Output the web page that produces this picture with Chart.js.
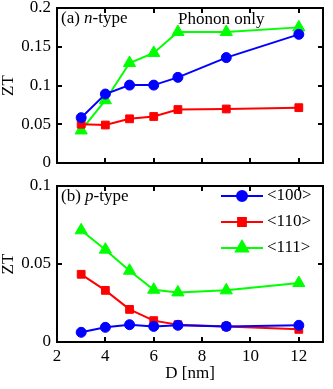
<!DOCTYPE html>
<html>
<head>
<meta charset="utf-8">
<script src="https://cdn.jsdelivr.net/npm/chart.js@4.4.1/dist/chart.umd.min.js"></script>
<style>
  html, body { margin: 0; padding: 0; background: #fff; }
  #wrap { position: relative; width: 333px; height: 389px; }
  #top-box { position: absolute; left: 0; top: 0; width: 333px; height: 175px; }
  #bottom-box { position: absolute; left: 0; top: 175px; width: 333px; height: 214px; }
</style>
</head>
<body>
<div id="wrap">
  <div id="top-box"><canvas id="chart-n"></canvas></div>
  <div id="bottom-box"><canvas id="chart-p"></canvas></div>
</div>
<script>
// nanowire diameters (nm)
const diameters = [3, 4, 5, 6, 7, 9, 12];
const seriesNames = ["<100>", "<110>", "<111>"];

// (a) n-type, phonon only
const nType100 = [0.0585, 0.089, 0.1005, 0.1005, 0.1105, 0.136, 0.166];
const nType110 = [0.050, 0.049, 0.057, 0.060, 0.069, 0.0697, 0.0714];
const nType111 = [0.042, 0.081, 0.129, 0.142, 0.169, 0.169, 0.175];

// (b) p-type
const pType100 = [0.0062, 0.0094, 0.0111, 0.0100, 0.0107, 0.0100, 0.0107];
const pType110 = [0.0434, 0.0331, 0.0209, 0.0137, 0.0111, 0.0100, 0.0081];
const pType111 = [0.0716, 0.0592, 0.0457, 0.0335, 0.0318, 0.0331, 0.0378];

const xTicks = [2, 4, 6, 8, 10, 12];
const yTicksN = [0, 0.05, 0.1, 0.15, 0.2];
const yTicksP = [0, 0.05, 0.1];

const FONT = "'Liberation Serif', 'DejaVu Serif', serif";
const FONT_SIZE = 17;

const styles = [
  { color: "#0000ff", pointStyle: "circle", radius: 5 },
  { color: "#ff0000", pointStyle: "rect", radius: 5.5 },
  { color: "#00ff00", pointStyle: "triangle", radius: 7 },
];

function makeDatasets(values) {
  return values.map((vals, i) => ({
    label: seriesNames[i],
    data: vals,
    borderColor: styles[i].color,
    backgroundColor: styles[i].color,
    borderWidth: 2,
    pointStyle: styles[i].pointStyle,
    pointRadius: styles[i].radius,
    pointBorderWidth: 1,
    pointBorderColor: styles[i].color,
    pointBackgroundColor: styles[i].color,
    tension: 0,
    fill: false,
  }));
}

// box around the plot area with inward ticks on all four sides
const frameTicks = {
  id: "frameTicks",
  afterDraw(chart) {
    const { ctx, chartArea: a, scales } = chart;
    const len = 5;
    ctx.save();
    ctx.strokeStyle = "#000";
    ctx.lineWidth = 2;
    ctx.beginPath();
    scales.x.ticks.forEach((t) => {
      const px = Math.round(scales.x.getPixelForValue(t.value));
      ctx.moveTo(px, a.bottom);
      ctx.lineTo(px, a.bottom - len);
      ctx.moveTo(px, a.top);
      ctx.lineTo(px, a.top + len);
    });
    scales.y.ticks.forEach((t) => {
      const py = Math.round(scales.y.getPixelForValue(t.value));
      ctx.moveTo(a.left, py);
      ctx.lineTo(a.left + len, py);
      ctx.moveTo(a.right, py);
      ctx.lineTo(a.right - len, py);
    });
    ctx.stroke();
    ctx.strokeRect(a.left, a.top, a.right - a.left, a.bottom - a.top);
    ctx.restore();
  },
};

// panel caption, e.g. "(a) n-type" with an italic letter
const panelText = {
  id: "panelText",
  afterDraw(chart, args, opts) {
    const { ctx, chartArea: a } = chart;
    ctx.save();
    ctx.fillStyle = "#000";
    ctx.textBaseline = "middle";
    (opts.items || []).forEach((item) => {
      let x = a.left + item.dx;
      const y = a.top + item.dy;
      item.parts.forEach((p) => {
        ctx.font = (p.italic ? "italic " : "") + FONT_SIZE + "px " + FONT;
        ctx.fillText(p.text, x, y);
        x += ctx.measureText(p.text).width;
      });
    });
    ctx.restore();
  },
};

// legend in the upper right: line through marker, then label
const lineLegend = {
  id: "lineLegend",
  afterDraw(chart, args, opts) {
    if (!opts.show) return;
    const { ctx, chartArea: a } = chart;
    ctx.save();
    chart.data.datasets.forEach((ds, i) => {
      const y = a.top + 10 + i * 26;
      const x0 = a.right - 102;
      const x1 = x0 + 42;
      ctx.strokeStyle = ds.borderColor;
      ctx.lineWidth = 2;
      ctx.beginPath();
      ctx.moveTo(x0, y);
      ctx.lineTo(x1, y);
      ctx.stroke();
      ctx.fillStyle = ds.pointBackgroundColor;
      Chart.helpers.drawPoint(ctx, { pointStyle: ds.pointStyle, radius: ds.pointRadius, borderWidth: 1, rotation: 0 }, (x0 + x1) / 2, y);
      ctx.fill();
      ctx.fillStyle = "#000";
      ctx.font = FONT_SIZE + "px " + FONT;
      ctx.textBaseline = "middle";
      ctx.fillText(ds.label, x1 + 4, y);
    });
    ctx.restore();
  },
};

function makeChart(canvasId, values, yTicks, yMax, opts) {
  return new Chart(document.getElementById(canvasId), {
    type: "line",
    data: {
      datasets: makeDatasets(values.map((vals) => vals.map((v, j) => ({ x: diameters[j], y: v })))),
    },
    options: {
      responsive: true,
      maintainAspectRatio: false,
      animation: false,
      layout: { autoPadding: false, padding: opts.padding },
      scales: {
        x: {
          type: "linear",
          min: 2,
          max: 13,
          afterBuildTicks: (s) => { s.ticks = xTicks.map((v) => ({ value: v })); },
          afterFit: (s) => {
            s.height = opts.xHeight;
            s.paddingLeft = 0;
            s.paddingRight = 0;
          },
          grid: { display: false, drawTicks: false },
          border: { display: false },
          ticks: {
            display: opts.xLabels,
            padding: 4,
            color: "#000",
            maxRotation: 0,
            font: { family: FONT, size: FONT_SIZE },
          },
          title: {
            display: opts.xLabels,
            text: "D [nm]",
            color: "#000",
            padding: { top: 0, bottom: 6 },
            font: { family: FONT, size: FONT_SIZE, lineHeight: 1.1 },
          },
        },
        y: {
          type: "linear",
          min: 0,
          max: yMax,
          afterBuildTicks: (s) => { s.ticks = yTicks.map((v) => ({ value: v })); },
          afterFit: (s) => {
            s.width = 57;
            // let the end labels overhang the padding
            s.paddingTop = 0;
            s.paddingBottom = 0;
          },
          grid: { display: false, drawTicks: false },
          border: { display: false },
          ticks: {
            padding: 6,
            color: "#000",
            font: { family: FONT, size: FONT_SIZE },
            callback: (v) => String(v),
          },
          title: {
            display: true,
            text: "ZT",
            color: "#000",
            padding: 0,
            font: { family: FONT, size: FONT_SIZE, lineHeight: 1 },
          },
        },
      },
      plugins: {
        legend: { display: false },
        tooltip: { enabled: false },
        panelText: { items: opts.captions },
        lineLegend: { show: opts.legend },
      },
    },
    plugins: [frameTicks, panelText, lineLegend],
  });
}

makeChart("chart-n", [nType100, nType110, nType111], yTicksN, 0.2, {
  padding: { left: 0, right: 10, top: 8, bottom: 0 },
  xHeight: 12,
  xLabels: false,
  legend: false,
  captions: [
    { dx: 4, dy: 11, parts: [{ text: "(a) " }, { text: "n", italic: true }, { text: "-type" }] },
    { dx: 121, dy: 12, parts: [{ text: "Phonon only" }] },
  ],
});

makeChart("chart-p", [pType100, pType110, pType111], yTicksP, 0.1, {
  padding: { left: 0, right: 10, top: 11, bottom: 0 },
  xHeight: 47,
  xLabels: true,
  legend: true,
  captions: [
    { dx: 4, dy: 11, parts: [{ text: "(b) " }, { text: "p", italic: true }, { text: "-type" }] },
  ],
});
</script>
</body>
</html>
